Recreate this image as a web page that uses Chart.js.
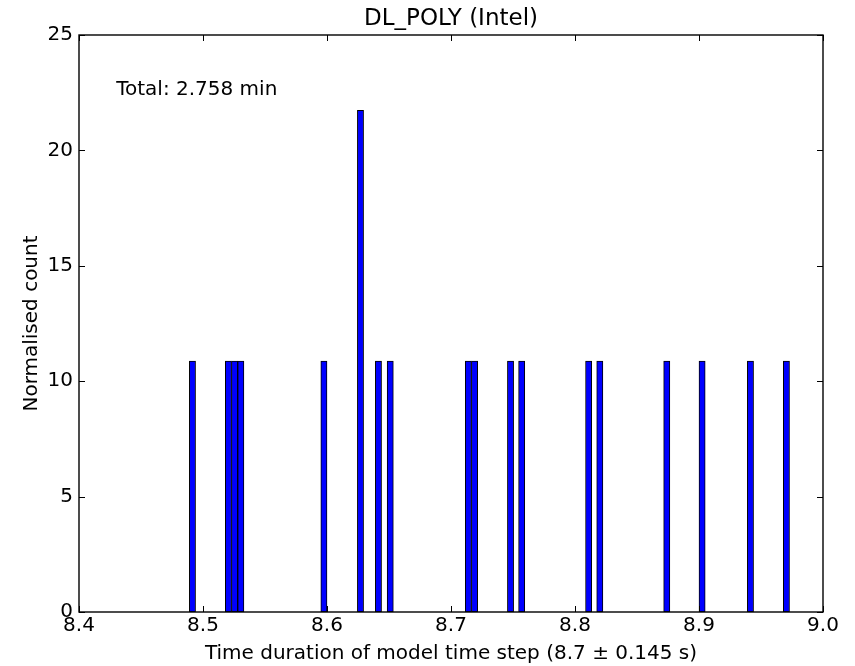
<!DOCTYPE html>
<html>
<head>
<meta charset="utf-8">
<title>DL_POLY (Intel)</title>
<script src="https://cdn.jsdelivr.net/npm/chart.js@4/dist/chart.umd.min.js"></script>
<style>
  html, body { margin: 0; padding: 0; background: #fff; }
  #wrap { width: 855px; height: 666px; }
</style>
</head>
<body>
<div id="wrap"><canvas id="chart" width="855" height="666"></canvas></div>
<script>
// Histogram of time step durations (bin centres, seconds)
const binCentres = [8.4915, 8.5205, 8.5255, 8.5305, 8.5975, 8.627, 8.6415, 8.651,
                    8.714, 8.719, 8.748, 8.757, 8.811, 8.820, 8.874, 8.9025, 8.9415, 8.9705];
const normCounts = [10.87, 10.87, 10.87, 10.87, 10.87, 21.74, 10.87, 10.87,
                    10.87, 10.87, 10.87, 10.87, 10.87, 10.87, 10.87, 10.87, 10.87, 10.87];

const xRange = [8.4, 9.0];
const yRange = [0, 25];
const chartTitle = 'DL_POLY (Intel)';
const totalLabel = 'Total: 2.758 min';
const xTitle = 'Time duration of model time step (8.7 \u00b1 0.145 s)';
const yTitle = 'Normalised count';

const FONT = "'DejaVu Sans', sans-serif";

// frame, inward ticks on all four sides, title and the total text
const framePlugin = {
  id: 'frame',
  afterDatasetsDraw(chart) {
    const { ctx, chartArea: a, scales: { x, y } } = chart;
    ctx.save();
    ctx.strokeStyle = '#000';
    ctx.lineWidth = 1;
    ctx.beginPath();
    x.ticks.forEach(t => {
      const px = Math.round(x.getPixelForValue(t.value)) + 0.5;
      ctx.moveTo(px, a.bottom); ctx.lineTo(px, a.bottom - 6);
      ctx.moveTo(px, a.top); ctx.lineTo(px, a.top + 6);
    });
    y.ticks.forEach(t => {
      const py = Math.round(y.getPixelForValue(t.value)) + 0.5;
      ctx.moveTo(a.left, py); ctx.lineTo(a.left + 6, py);
      ctx.moveTo(a.right, py); ctx.lineTo(a.right - 6, py);
    });
    ctx.stroke();
    ctx.lineWidth = 1.4;
    ctx.strokeRect(a.left, a.top, a.right - a.left, a.bottom - a.top);

    ctx.fillStyle = '#000';
    ctx.font = '23px ' + FONT;
    ctx.textAlign = 'center';
    ctx.textBaseline = 'middle';
    ctx.fillText(chartTitle, (a.left + a.right) / 2, 19);

    ctx.font = '20px ' + FONT;
    ctx.textAlign = 'left';
    ctx.textBaseline = 'alphabetic';
    ctx.fillText(totalLabel, a.left + 0.05 * (a.right - a.left), a.bottom - 0.9 * (a.bottom - a.top) + 2);
    ctx.restore();
  }
};

new Chart(document.getElementById('chart'), {
  type: 'bar',
  data: {
    datasets: [{
      data: binCentres.map((c, i) => ({ x: c, y: normCounts[i] })),
      backgroundColor: '#0000ff',
      borderColor: '#000',
      borderWidth: 1,
      borderSkipped: false,
      barPercentage: 1,
      categoryPercentage: 1
    }]
  },
  options: {
    responsive: false,
    animation: false,
    layout: { padding: { top: 35, right: 32, left: 0, bottom: 0 } },
    plugins: { legend: { display: false }, tooltip: { enabled: false } },
    scales: {
      x: {
        type: 'linear',
        offset: false,
        min: xRange[0],
        max: xRange[1],
        grid: { display: false, drawTicks: false },
        border: { display: false },
        ticks: {
          stepSize: 0.1,
          color: '#000',
          font: { family: FONT, size: 20 },
          padding: 2,
          maxRotation: 0,
          callback: v => v.toFixed(1)
        },
        title: {
          display: true,
          text: xTitle,
          color: '#000',
          font: { family: FONT, size: 20 },
          padding: { top: 0, bottom: 0 }
        },
        afterFit: s => { s.height = 54; }
      },
      y: {
        min: yRange[0],
        max: yRange[1],
        grid: { display: false, drawTicks: false },
        border: { display: false },
        ticks: {
          stepSize: 5,
          color: '#000',
          font: { family: FONT, size: 20 },
          padding: 6
        },
        title: {
          display: true,
          text: yTitle,
          color: '#000',
          font: { family: FONT, size: 20 },
          padding: { top: 20, bottom: 0 }
        },
        afterFit: s => { s.width = 79; }
      }
    }
  },
  plugins: [framePlugin]
});
</script>
</body>
</html>
